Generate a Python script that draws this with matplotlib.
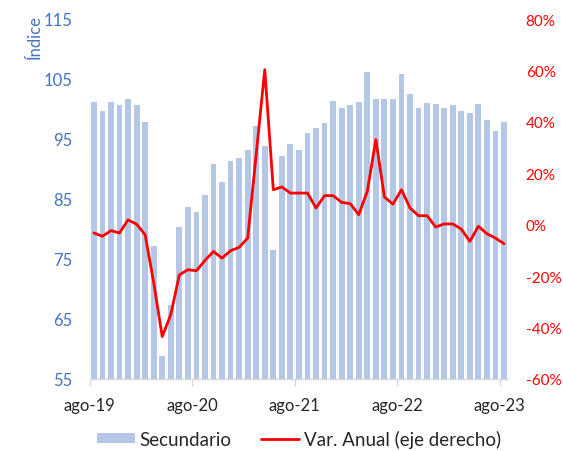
import matplotlib
matplotlib.use("Agg")
import matplotlib.pyplot as plt
import numpy as np

plt.rcParams['font.family'] = ['Lato', 'DejaVu Sans']

# Monthly data ago-19 ... ago-23
months = ['ago-19', 'sep-19', 'oct-19', 'nov-19', 'dic-19', 'ene-20', 'feb-20', 'mar-20', 'abr-20',
          'may-20', 'jun-20', 'jul-20', 'ago-20', 'sep-20', 'oct-20', 'nov-20', 'dic-20', 'ene-21',
          'feb-21', 'mar-21', 'abr-21', 'may-21', 'jun-21', 'jul-21', 'ago-21', 'sep-21', 'oct-21',
          'nov-21', 'dic-21', 'ene-22', 'feb-22', 'mar-22', 'abr-22', 'may-22', 'jun-22', 'jul-22',
          'ago-22', 'sep-22', 'oct-22', 'nov-22', 'dic-22', 'ene-23', 'feb-23', 'mar-23', 'abr-23',
          'may-23', 'jun-23', 'jul-23', 'ago-23']

secundario = [101.2, 99.6, 101.1, 100.7, 101.6, 100.7, 97.8, 77.1, 58.8,
              67.3, 80.4, 83.7, 82.9, 85.6, 90.8, 87.9, 91.4, 91.8,
              93.1, 97.1, 93.9, 76.5, 92.1, 94.1, 93.2, 96.0, 96.8,
              97.7, 101.4, 100.1, 100.7, 101.1, 106.1, 101.6, 101.7, 101.6,
              105.9, 102.5, 100.1, 101.0, 100.8, 100.2, 100.7, 99.6, 99.3,
              100.8, 98.1, 96.3, 97.9]

var_anual = [-3.2, -4.5, -2.3, -3.2, 1.9, 0.2, -3.9, -22.5, -43.5,
             -35.0, -19.5, -17.5, -17.9, -13.9, -10.4, -13.0, -10.1, -8.8,
             -5.2, 27.5, 60.3, 13.6, 14.7, 12.3, 12.3, 12.3, 6.5,
             11.3, 11.3, 8.7, 8.2, 3.9, 13.0, 33.1, 10.8, 8.0,
             13.6, 6.5, 3.5, 3.5, -0.9, 0.3, 0.3, -1.7, -6.5,
             -0.6, -3.5, -5.2, -7.4]

tick_labels = ['ago-19', 'ago-20', 'ago-21', 'ago-22', 'ago-23']

BAR = '#B4C7E7'
RED = '#FF0000'
BLUE = '#4472C4'
TXT = '#262626'

fig = plt.figure(figsize=(5.63, 4.52), dpi=100)
ax = fig.add_axes([89.6/563, 1-380/452, (508.3-89.6)/563, 360/452])
x = np.arange(len(months))
bars = ax.bar(x, secundario, width=0.68, color=BAR, label='Secundario', zorder=1)
ax.set_ylim(55, 115)
ax.set_yticks(np.arange(55, 116, 10))
ax.set_xlim(-0.5, len(months) - 0.5)

tick_pos = [months.index(t) - 0.5 for t in tick_labels]
ax.set_xticks(tick_pos)
ax.set_xticklabels(tick_labels, fontsize=12, color=TXT)
ax.tick_params(axis='x', length=5, width=1, color='#D9D9D9', pad=8)
ax.tick_params(axis='y', length=0, labelsize=12, labelcolor=BLUE, pad=12.5)
for s in ['top', 'left', 'right']:
    ax.spines[s].set_visible(False)
ax.spines['bottom'].set_color('#D9D9D9')
ax.spines['bottom'].set_linewidth(1)

ax2 = ax.twinx()
line, = ax2.plot(x, var_anual, color=RED, lw=2.0, label='Var. Anual (eje derecho)', zorder=3,
                 solid_joinstyle='round', solid_capstyle='round')
ax2.set_ylim(-60, 80)
ax2.set_yticks(np.arange(-60, 81, 20))
ax2.set_yticklabels([f'{v}%' for v in range(-60, 81, 20)])
ax2.tick_params(axis='y', length=0, labelsize=11, labelcolor=RED, pad=12.5)
for s in ['top', 'left', 'right', 'bottom']:
    ax2.spines[s].set_visible(False)

fig.text(35/563, 1-37/452, 'Índice', rotation=90, color=BLUE, fontsize=12,
         ha='center', va='center')

fig.legend([bars, line], ['Secundario', 'Var. Anual (eje derecho)'],
           loc='center', bbox_to_anchor=(299/563, 1-440/452), ncol=2, frameon=False,
           fontsize=13.5, labelcolor=TXT, handlelength=2.0, handleheight=0.45,
           handletextpad=0.25, columnspacing=1.6, borderaxespad=0)

fig.savefig('out.png', dpi=100)
